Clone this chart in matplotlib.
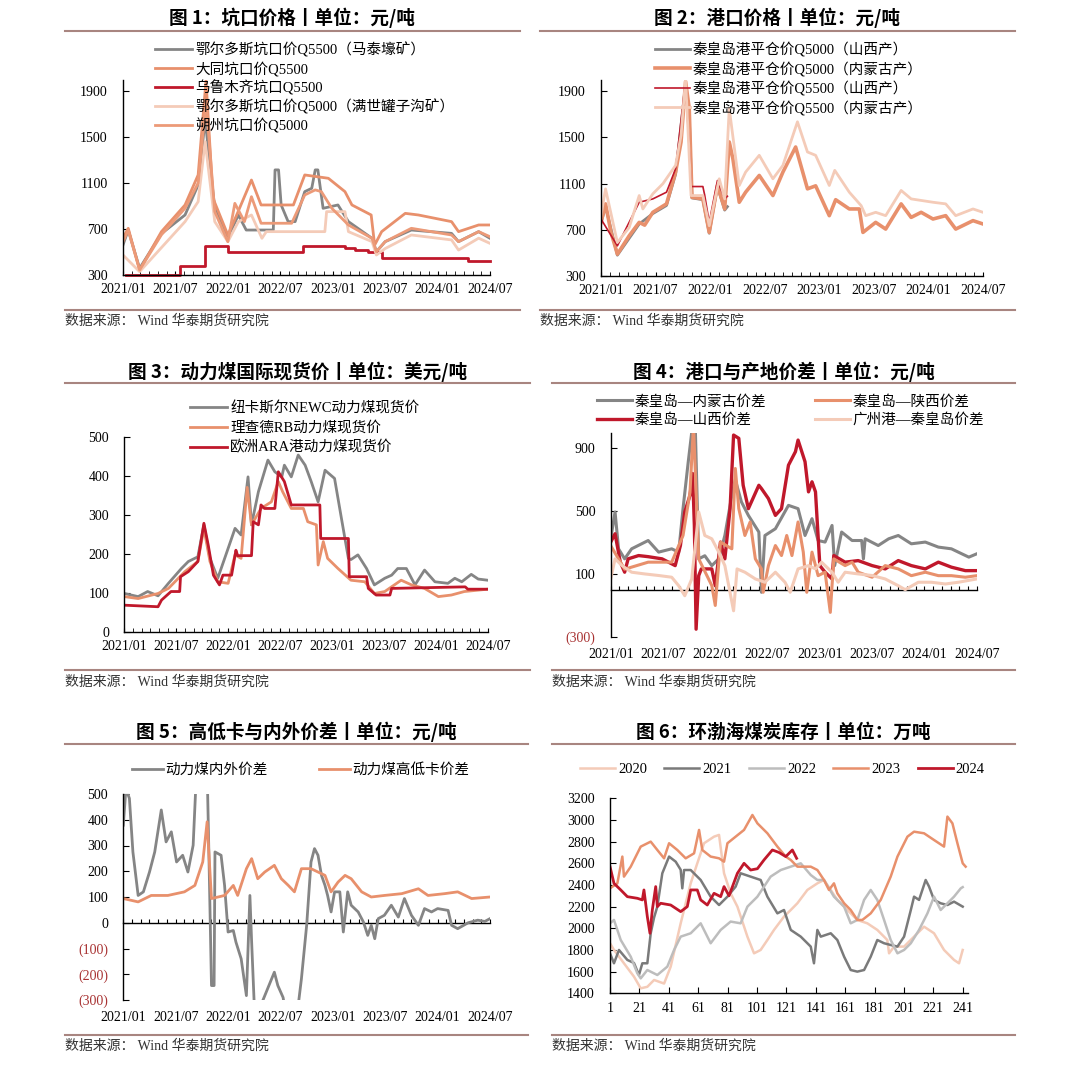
import matplotlib
matplotlib.use('Agg')
import matplotlib.pyplot as plt
from matplotlib.lines import Line2D

plt.rcParams['font.family'] = ['Liberation Serif', 'Noto Sans CJK SC']
plt.rcParams['axes.unicode_minus'] = False

GREY = '#858585'
SALMON = '#e8906c'
SALMON2 = '#ec9a78'
DARKRED = '#c0182b'
PEACH = '#f4cbb8'
LGREY = '#bdbdbd'
DGREY = '#7a7a7a'
RULE = '#a88580'
NEG = '#a83232'

# x in months since 2021/01 (panels 1-5), week number (panel 6)
month_labels = ['2021/01', '2021/07', '2022/01', '2022/07', '2023/01', '2023/07', '2024/01', '2024/07']

# 图1 坑口价格
p1_x_grey = [0, 0.6, 1.9, 4.4, 7.1, 8.6, 9.4, 10.5, 12.0, 13.2, 14.1, 17.2, 17.4, 17.8, 18.1, 18.9, 19.7, 20.8, 21.6, 22.0, 22.3, 22.9, 24.6, 25.8, 28.5, 29.0, 30.0, 33.0, 37.6, 38.4, 40.7, 42]
p1_grey = [561, 690, 358, 660, 822, 1083, 1650, 880, 619, 822, 691, 691, 1214, 1214, 909, 764, 764, 1025, 1054, 1214, 1214, 880, 909, 764, 619, 503, 590, 691, 662, 590, 677, 619]
p1_x_datong = [0, 0.6, 1.9, 4.4, 7.1, 8.6, 9.5, 10.3, 12.0, 13.0, 14.7, 15.8, 19.5, 20.8, 23.5, 25.4, 26.2, 28.4, 28.8, 29.6, 32.3, 33.8, 37.6, 38.4, 40.7, 42]
p1_datong = [620, 706, 343, 677, 909, 1170, 1990, 967, 648, 820, 1126, 909, 909, 1170, 1141, 1025, 909, 822, 560, 677, 836, 822, 764, 677, 735, 735]
p1_x_wlmq = [0.4, 6.5, 9.4, 12.0, 20.6, 25.4, 26.5, 28.0, 29.6, 39.5, 42]
p1_wlmq = [300, 381, 555, 497, 555, 532, 520, 503, 445, 422, 422]
p1_x_mansh = [0, 1.9, 7.1, 8.6, 9.4, 10.5, 12.0, 13.2, 14.7, 15.9, 16.4, 23.1, 23.3, 25.4, 25.8, 28.5, 29.0, 30.0, 33.0, 37.6, 38.4, 40.7, 42]
p1_mansh = [474, 329, 764, 938, 1460, 764, 590, 764, 822, 619, 677, 677, 851, 851, 677, 590, 474, 530, 648, 605, 517, 620, 575]
p1_x_shuozhou = [0, 0.6, 1.9, 4.4, 7.1, 8.6, 9.5, 10.5, 12.0, 12.8, 13.9, 14.7, 15.8, 19.3, 20.8, 22.0, 22.7, 23.9, 25.8, 28.5, 29.0, 30.0, 33.0, 37.6, 38.4, 40.7, 42]
p1_shuozhou = [590, 690, 343, 650, 880, 1100, 1808, 851, 590, 923, 764, 981, 750, 750, 996, 1040, 1025, 880, 735, 619, 503, 590, 706, 648, 590, 677, 633]

# 图2 港口价格
p2_x_sx5000 = [0, 0.5, 1.8, 4.2, 5.7, 7.2, 8.2, 9.3, 9.7, 10.0, 11.2, 11.9, 12.8, 13.6, 13.9]
p2_sx5000 = [760, 900, 480, 750, 840, 910, 1180, 1960, 1700, 975, 960, 670, 1075, 870, 900]
p2_x_nm5000 = [0, 0.5, 1.1, 1.8, 3.1, 4.2, 4.8, 5.7, 7.2, 8.2, 8.8, 9.3, 9.7, 10.0, 11.2, 11.9, 12.8, 13.6, 14.1, 14.5, 15.2, 15.9, 17.4, 18.9, 20.0, 21.4, 22.7, 23.6, 25.1, 25.8, 27.3, 28.4, 28.8, 30.2, 31.3, 33.0, 34.1, 35.2, 36.5, 37.9, 39.0, 40.9, 42]
p2_nm5000 = [764, 924, 677, 489, 648, 764, 740, 851, 924, 1199, 1460, 1982, 1750, 981, 967, 677, 1083, 880, 1460, 1315, 938, 1025, 1170, 996, 1199, 1416, 1054, 1080, 822, 960, 880, 880, 677, 764, 706, 924, 807, 851, 793, 822, 706, 779, 750]
p2_x_sx5500 = [0, 1.8, 4.2, 5.7, 7.2, 8.2, 8.6, 9.3, 9.9, 11.2, 11.4, 11.9, 12.8, 13.6, 13.9]
p2_sx5500 = [793, 561, 938, 967, 1025, 1228, 1503, 1996, 1074, 1074, 1000, 764, 1126, 967, 990]
p2_x_nm5500 = [0, 0.5, 1.8, 3.1, 4.2, 4.6, 5.7, 6.8, 8.2, 8.8, 9.3, 9.9, 11.2, 11.9, 13.0, 13.6, 14.1, 15.2, 15.9, 17.4, 18.9, 20.0, 21.6, 22.7, 23.6, 25.1, 25.7, 27.3, 28.6, 29.1, 30.2, 31.3, 33.0, 34.1, 36.5, 37.9, 39.0, 40.9, 42]
p2_nm5500 = [822, 1054, 590, 720, 996, 880, 1011, 1098, 1257, 1518, 2011, 996, 996, 735, 1141, 967, 1750, 1083, 1199, 1344, 1141, 1257, 1634, 1373, 1344, 1083, 1214, 1025, 909, 822, 851, 822, 1040, 967, 938, 924, 822, 880, 851]

# 图3 动力煤国际现货价
p3_x_newc = [0, 1.6, 2.7, 3.9, 5.1, 6.6, 7.4, 8.5, 9.2, 9.9, 10.8, 11.6, 12.8, 13.5, 14.3, 14.7, 15.5, 16.6, 17.4, 18.2, 18.5, 19.3, 20.1, 20.9, 21.6, 22.4, 23.2, 24.3, 25.1, 25.9, 26.2, 27.0, 28.0, 28.9, 30.1, 30.9, 31.6, 32.6, 33.6, 34.7, 35.9, 37.4, 38.2, 39.0, 40.1, 40.9, 42]
p3_newc = [98, 90, 103, 92, 124, 162, 180, 192, 274, 188, 137, 188, 265, 248, 397, 274, 359, 440, 410, 397, 427, 397, 453, 427, 385, 333, 414, 393, 290, 188, 185, 197, 162, 120, 137, 145, 162, 162, 120, 158, 128, 124, 137, 128, 147, 135, 132]
p3_x_rb = [0, 1.6, 3.9, 5.1, 7.0, 8.5, 9.2, 9.9, 10.8, 12.0, 12.8, 13.5, 14.2, 14.7, 15.8, 17.0, 17.8, 18.3, 19.3, 20.7, 21.2, 22.2, 22.4, 23.0, 23.5, 24.7, 26.2, 27.8, 28.9, 30.1, 32.0, 33.2, 34.7, 36.3, 37.8, 39.3, 42]
p3_rb = [90, 85, 98, 111, 154, 180, 265, 180, 128, 124, 197, 188, 370, 274, 316, 333, 385, 359, 316, 316, 282, 274, 171, 231, 188, 162, 132, 128, 98, 103, 132, 120, 111, 90, 94, 103, 109]
p3_x_ara = [0, 3.9, 4.3, 5.4, 6.4, 6.5, 7.4, 8.5, 9.2, 9.7, 10.3, 11.0, 11.4, 12.4, 12.9, 13.1, 14.7, 14.9, 15.5, 15.8, 16.2, 17.4, 17.8, 18.5, 19.3, 22.6, 22.7, 25.9, 26.0, 28.0, 28.2, 29.1, 30.7, 30.9, 39.4, 39.7, 42]
p3_ara = [68, 64, 81, 103, 103, 141, 154, 180, 278, 222, 145, 120, 145, 145, 209, 195, 195, 282, 274, 325, 316, 316, 410, 385, 325, 325, 239, 239, 141, 141, 111, 94, 94, 111, 115, 109, 109]

# 图4 港口与产地价差
p4_x_nmg = [0, 0.5, 0.9, 1.6, 2.4, 4.3, 5.5, 7.0, 7.8, 8.3, 8.9, 9.4, 9.7, 10.1, 10.8, 11.6, 12.4, 13.1, 13.9, 14.3, 15.0, 15.8, 17.0, 17.3, 17.7, 18.9, 20.4, 21.5, 22.3, 23.1, 23.8, 24.6, 25.4, 25.7, 26.5, 27.7, 28.8, 29.0, 29.2, 30.7, 31.9, 33.0, 34.5, 36.1, 37.6, 39.1, 40.3, 41.1, 42]
p4_nmg = [324, 495, 260, 196, 260, 313, 239, 260, 239, 516, 815, 1050, 1050, 196, 216, 153, 196, 345, 600, 700, 559, 473, 367, -17, 345, 388, 537, 516, 345, 452, 313, 303, 409, 153, 367, 313, 313, 196, 324, 281, 324, 345, 292, 303, 271, 260, 228, 207, 228]
p4_x_sx = [0, 0.5, 1.1, 1.6, 2.0, 3.2, 4.3, 5.9, 7.4, 8.0, 8.5, 9.1, 9.4, 9.6, 9.8, 10.1, 10.4, 11.6, 12.0, 12.6, 13.1, 13.7, 14.1, 14.7, 15.2, 15.8, 17.0, 17.3, 18.1, 18.9, 19.6, 20.4, 21.2, 21.5, 22.3, 22.7, 23.1, 23.5, 24.0, 24.6, 25.4, 25.6, 26.9, 28.4, 30.0, 31.5, 33.0, 34.5, 36.1, 37.6, 39.1, 40.7, 42]
p4_sx = [303, 356, 175, 111, 196, 217, 210, 196, 153, 281, 495, 601, 740, 409, -252, 89, 132, 132, 25, 303, 196, 516, 985, 964, 665, 516, 665, 644, 580, 473, 516, 793, 879, 953, 815, 623, 687, 623, 153, 111, 68, 217, 175, 185, 153, 132, 185, 153, 132, 175, 143, 121, 121]
p4_x_shx = [0, 1.6, 4.3, 7.0, 8.3, 9.1, 9.5, 10.1, 11.6, 12.0, 12.6, 13.9, 14.3, 14.7, 15.4, 16.0, 16.6, 17.3, 17.5, 18.1, 18.9, 19.6, 20.2, 20.8, 21.5, 22.1, 22.5, 23.1, 23.8, 24.6, 25.2, 25.6, 26.9, 27.7, 28.4, 30.0, 31.5, 33.0, 34.5, 36.1, 37.6, 39.1, 40.7, 42]
p4_shx = [280, 130, 175, 175, 345, 620, 1050, 196, 26, -101, 303, 260, 772, 516, 345, 431, 196, 132, -17, 153, 281, 217, 345, 217, 431, 239, -17, 239, 89, 111, -145, 196, 153, 175, 111, 79, 153, 132, 89, 111, 89, 89, 79, 89]
p4_x_gz = [0, 0.5, 1.3, 2.4, 3.9, 5.5, 7.0, 7.8, 8.5, 9.3, 10.1, 10.8, 11.6, 12.4, 13.1, 14.1, 14.5, 15.4, 16.6, 17.7, 18.9, 20.0, 20.6, 21.5, 22.7, 23.5, 24.2, 25.4, 26.1, 26.9, 28.4, 30.0, 31.5, 33.0, 33.8, 35.3, 36.8, 38.4, 39.9, 42]
p4_gz = [68, 196, 153, 111, 100, 90, 79, 25, -39, 68, 495, 345, 324, 239, 153, -135, 132, 111, 68, 47, 111, 47, -17, 132, 153, 132, 175, 111, 47, 111, 100, 90, 68, 25, 0, 47, 47, 36, 47, 68]

# 图5 高低卡与内外价差
p5_x_nw = [0, 0.3, 0.7, 1.1, 1.7, 2.3, 3.0, 3.6, 4.35, 4.9, 5.5, 6.1, 6.8, 7.4, 8.0, 8.4, 8.6, 9.6, 9.8, 10.1, 10.4, 10.5, 11.2, 11.6, 12.0, 12.6, 12.9, 13.5, 14.1, 14.5, 14.7, 15.0, 15.4, 17.3, 17.7, 18.3, 18.5, 20.0, 20.4, 21.0, 21.5, 21.9, 22.3, 22.7, 23.1, 23.4, 23.8, 24.2, 24.8, 25.2, 25.7, 26.1, 26.9, 27.5, 28.0, 28.4, 28.8, 29.2, 29.9, 30.7, 31.5, 32.2, 33.0, 33.8, 34.5, 35.3, 36.0, 37.2, 37.6, 38.3, 39.5, 40.6, 41.4, 42]
p5_nw = [379, 520, 483, 275, 106, 120, 197, 275, 438, 314, 353, 236, 262, 197, 301, 600, 600, 600, 275, -244, -244, 275, 262, 145, -36, -30, -75, -140, -283, 106, -75, -320, -350, -192, -244, -290, -330, -330, -218, -10, 236, 288, 262, 184, 145, 106, 42, 120, 120, -36, 120, 68, 42, 3, -49, -10, -62, 16, 29, 68, 22, 94, 29, -10, 55, 42, 55, 48, -10, -23, 0, 10, 5, 16]
p5_x_gd = [0, 1.7, 3.2, 5.1, 7.0, 8.2, 9.1, 9.6, 10.1, 11.6, 12.6, 13.1, 14.1, 14.7, 15.4, 16.2, 17.3, 18.1, 18.9, 19.6, 20.4, 21.5, 23.1, 23.8, 24.6, 25.4, 26.1, 27.3, 28.4, 29.9, 31.9, 33.8, 34.9, 36.8, 38.3, 39.9, 42]
p5_gd = [94, 81, 106, 106, 120, 145, 236, 392, 94, 106, 145, 106, 210, 249, 171, 197, 223, 171, 145, 120, 210, 210, 184, 120, 158, 184, 171, 120, 100, 106, 113, 132, 106, 113, 120, 94, 100]

# 图6 环渤海煤炭库存
p6_w2020 = [1, 3.7, 10.5, 17.3, 21.9, 26.4, 31, 37.8, 42.3, 49.1, 55.9, 60.4, 65, 71.8, 75.2, 78.6, 83.1, 87.7, 94.5, 99, 103.5, 108.1, 112.6, 119.4, 124, 128.5, 135.3, 142.1, 146.6, 151.2, 155.7, 162.5, 169.3, 176.1, 182.9, 189.7, 190.9, 194.3, 201.1, 207.9, 214.7, 221.5, 228.3, 235.1, 238.5, 241]
p6_2020 = [1862, 1800, 1677, 1554, 1446, 1460, 1523, 1490, 1646, 2046, 2415, 2600, 2785, 2846, 2862, 2508, 2323, 2200, 1923, 1769, 1800, 1892, 1985, 2108, 2169, 2231, 2354, 2415, 2446, 2354, 2262, 2169, 2077, 2046, 1985, 1892, 1769, 1831, 1831, 1923, 2015, 1954, 1800, 1708, 1677, 1800]
p6_w2021 = [1, 3.7, 7.1, 12.8, 17.3, 20.7, 23, 26.4, 28.7, 31, 33.2, 36.6, 41.2, 45.7, 49.1, 50.2, 51.4, 55.9, 62.7, 69.5, 75.2, 80.9, 86.5, 89.9, 96.7, 103.5, 108.1, 114.9, 119.4, 124, 130.8, 137.6, 139.8, 142.1, 144.4, 151.2, 155.7, 160.3, 164.8, 169.3, 173.9, 178.4, 182.9, 187.5, 192, 196.6, 201.1, 205.7, 207.9, 211.3, 215.8, 218.1, 221.5, 226, 230.6, 235.1, 241]
p6_2021 = [1769, 1677, 1800, 1708, 1680, 1569, 1677, 1677, 1954, 2100, 2200, 2508, 2662, 2615, 2540, 2369, 2538, 2538, 2446, 2292, 2215, 2292, 2385, 2508, 2477, 2446, 2292, 2138, 2169, 1985, 1923, 1831, 1677, 1985, 1923, 1954, 1892, 1738, 1615, 1600, 1615, 1738, 1892, 1862, 1846, 1831, 1923, 2169, 2292, 2262, 2446, 2385, 2262, 2231, 2215, 2246, 2200]
p6_w2022 = [1, 3.7, 8.3, 15.1, 19.6, 21.9, 26.4, 33.2, 40, 44.6, 49.1, 55.9, 62.7, 69.5, 76.3, 83.1, 89.9, 94.5, 101.3, 105.8, 110.3, 117.2, 124, 130.8, 137.6, 142.1, 146.6, 153.4, 160.3, 164.8, 169.3, 173.9, 178.4, 182.9, 187.5, 192, 196.6, 201.1, 205.7, 211.3, 217, 221.5, 226, 230.6, 235.1, 239.7, 241]
p6_2022 = [2046, 2077, 1892, 1738, 1585, 1538, 1615, 1569, 1646, 1800, 1923, 1954, 2046, 1862, 1985, 2062, 2046, 2200, 2292, 2385, 2477, 2538, 2569, 2600, 2492, 2446, 2446, 2292, 2200, 2046, 2077, 2262, 2354, 2262, 2077, 1892, 1769, 1800, 1862, 1985, 2138, 2292, 2169, 2231, 2292, 2369, 2380]
p6_w2023 = [1, 6, 9.4, 10.5, 15.1, 21.9, 28.7, 33.2, 37.8, 41.2, 46.8, 52.5, 58.2, 61.6, 63.8, 69.5, 75.2, 78.6, 80.9, 86.5, 92.2, 97.9, 101.3, 108.1, 114.9, 120.6, 124, 128.5, 137.6, 142.1, 146.6, 150, 153.4, 155.7, 160.3, 164.8, 169.3, 172.7, 178.4, 185.2, 192, 196.6, 203.4, 207.9, 214.7, 221.5, 228.3, 230.6, 234, 237.4, 241, 243]
p6_2023 = [2369, 2415, 2662, 2477, 2569, 2754, 2800, 2723, 2646, 2785, 2723, 2646, 2692, 2908, 2723, 2662, 2646, 2615, 2785, 2846, 2908, 3046, 2969, 2877, 2754, 2662, 2631, 2569, 2569, 2538, 2446, 2354, 2415, 2323, 2231, 2169, 2077, 2077, 2138, 2262, 2477, 2662, 2846, 2892, 2877, 2815, 2754, 3031, 2969, 2785, 2600, 2569]
p6_w2024 = [1, 3.7, 8.3, 12.8, 19.6, 23, 24.1, 26.4, 28.2, 29.8, 32.1, 33.2, 35.5, 42.3, 49.1, 53.6, 55.9, 60.4, 62.7, 67.2, 71.8, 76.3, 78.6, 82, 87.7, 92.2, 96.7, 101.3, 105.8, 111.5, 116, 120.6, 125.1, 128]
p6_2024 = [2569, 2415, 2354, 2292, 2277, 2262, 2354, 2108, 1954, 2169, 2385, 2200, 2231, 2215, 2154, 2200, 2354, 2354, 2262, 2215, 2323, 2292, 2385, 2300, 2508, 2600, 2538, 2550, 2631, 2723, 2700, 2662, 2723, 2646]

W, H = 1080, 1089
fig = plt.figure(figsize=(W / 100, H / 100), dpi=100)


def panel(left, top, right, bottom):
    return fig.add_axes([left / W, 1 - bottom / H, (right - left) / W, (bottom - top) / H])


def header(title, cx, ty, x0, x1, ly, by, sy):
    fig.text(cx / W, 1 - ty / H, title, ha='center', va='center', fontsize=13.4,
             fontweight='bold', family=['Noto Sans CJK SC'])
    fig.add_artist(Line2D([x0 / W, x1 / W], [1 - ly / H] * 2, color=RULE, lw=1.5))
    fig.add_artist(Line2D([x0 / W, x1 / W], [1 - by / H] * 2, color=RULE, lw=1.5))
    fig.text(x0 / W, 1 - sy / H, '数据来源： Wind 华泰期货研究院', ha='left', va='center',
             fontsize=10, color='#333333')


def style(ax, yticks, ylim, zero_line=False):
    for s in ['top', 'right']:
        ax.spines[s].set_visible(False)
    ax.spines['left'].set_linewidth(1.0)
    ax.spines['bottom'].set_linewidth(1.0)
    ax.set_ylim(*ylim)
    labels = ['(%d)' % abs(v) if v < 0 else '%d' % v for v in yticks]
    ax.set_yticks(yticks, labels=labels)
    for lab, v in zip(ax.get_yticklabels(), yticks):
        if v < 0:
            lab.set_color(NEG)
    ax.tick_params(axis='y', direction='in', length=4, pad=11, labelsize=10)
    ax.tick_params(axis='x', labelsize=10)
    if zero_line:
        ax.spines['bottom'].set_visible(False)
        sec = ax.secondary_xaxis(0, transform=ax.transData)
        sec.set_xticks(range(43))
        sec.tick_params(direction='in', length=3, labelbottom=False)
        sec.spines['bottom'].set_linewidth(1.0)


def month_axis(ax):
    ax.set_xlim(0, 42)
    ax.set_xticks(range(0, 43, 6), labels=month_labels)
    ax.set_xticks(range(43), minor=True)
    ax.tick_params(axis='x', which='both', direction='in', length=3, pad=6)


def legend(ax, x, y, hl, sp, **kw):
    ax.legend(loc='upper left', bbox_to_anchor=(x / W, 1 - y / H), bbox_transform=fig.transFigure,
              frameon=False, fontsize=10.5, handlelength=hl, handletextpad=0.2,
              labelspacing=sp, borderpad=0, borderaxespad=0, **kw)


# ---- 图1
ax1 = panel(123, 79.5, 490, 275)
ax1.plot(p1_x_grey, p1_grey, color=GREY, lw=2, label='鄂尔多斯坑口价Q5500（马泰壕矿）')
ax1.plot(p1_x_datong, p1_datong, color=SALMON, lw=2, label='大同坑口价Q5500')
ax1.plot(p1_x_wlmq, p1_wlmq, color=DARKRED, lw=2, drawstyle='steps-post', clip_on=False,
         label='乌鲁木齐坑口Q5500')
ax1.plot(p1_x_mansh, p1_mansh, color=PEACH, lw=2, label='鄂尔多斯坑口价Q5000（满世罐子沟矿）')
ax1.plot(p1_x_shuozhou, p1_shuozhou, color=SALMON2, lw=2, label='朔州坑口价Q5000')
style(ax1, [300, 700, 1100, 1500, 1900], (300, 2000))
month_axis(ax1)
legend(ax1, 155, 42, 2.55, 0.26)
header('图 1：坑口价格丨单位：元/吨', 292, 18, 65, 520, 31, 310, 321)

# ---- 图2
ax2 = panel(601, 79.5, 983, 276)
ax2.plot(p2_x_sx5000, p2_sx5000, color=GREY, lw=2, label='秦皇岛港平仓价Q5000（山西产）')
ax2.plot(p2_x_nm5000, p2_nm5000, color=SALMON, lw=2.6, label='秦皇岛港平仓价Q5000（内蒙古产）')
ax2.plot(p2_x_sx5500, p2_sx5500, color=DARKRED, lw=1.2, label='秦皇岛港平仓价Q5500（山西产）')
ax2.plot(p2_x_nm5500, p2_nm5500, color=PEACH, lw=2, label='秦皇岛港平仓价Q5500（内蒙古产）')
style(ax2, [300, 700, 1100, 1500, 1900], (300, 2000))
month_axis(ax2)
legend(ax2, 655, 42, 2.4, 0.31)
header('图 2：港口价格丨单位：元/吨', 777, 18, 540, 1015, 31, 310, 321)

# ---- 图3
ax3 = panel(124.3, 436.7, 487.7, 631.7)
ax3.plot(p3_x_newc, p3_newc, color=GREY, lw=2, label='纽卡斯尔NEWC动力煤现货价')
ax3.plot(p3_x_rb, p3_rb, color=SALMON, lw=2, label='理查德RB动力煤现货价')
ax3.plot(p3_x_ara, p3_ara, color=DARKRED, lw=2, label='欧洲ARA港动力煤现货价')
style(ax3, [0, 100, 200, 300, 400, 500], (0, 500))
month_axis(ax3)
legend(ax3, 190, 401, 2.55, 0.4)
header('图 3：动力煤国际现货价丨单位：美元/吨', 298, 372, 65, 530, 383, 670, 682)

# ---- 图4
ax4 = panel(610.7, 432.7, 976.7, 636.7)
ax4.plot(p4_x_nmg, p4_nmg, color=GREY, lw=2.2, label='秦皇岛—内蒙古价差')
ax4.plot(p4_x_sx, p4_sx, color=DARKRED, lw=2.4, label='秦皇岛—山西价差')
ax4.plot(p4_x_shx, p4_shx, color=SALMON, lw=2.2, label='秦皇岛—陕西价差')
ax4.plot(p4_x_gz, p4_gz, color=PEACH, lw=2.2, label='广州港—秦皇岛价差')
style(ax4, [-300, 100, 500, 900], (-300, 1000), zero_line=True)
month_axis(ax4)
ax4.tick_params(axis='x', which='both', length=0, pad=8)
legend(ax4, 597, 395, 2.4, 0.33, ncol=2, columnspacing=3.3)
header('图 4：港口与产地价差丨单位：元/吨', 784, 372, 552, 1015, 383, 670, 682)

# ---- 图5
ax5 = panel(123.3, 794, 490, 1000)
ax5.plot(p5_x_nw, p5_nw, color=GREY, lw=2, label='动力煤内外价差')
ax5.plot(p5_x_gd, p5_gd, color=SALMON, lw=2, label='动力煤高低卡价差')
style(ax5, [-300, -200, -100, 0, 100, 200, 300, 400, 500], (-300, 500), zero_line=True)
month_axis(ax5)
ax5.tick_params(axis='x', which='both', length=0, pad=8)
legend(ax5, 132, 763, 2.1, 0.2, ncol=2, columnspacing=3.5)
header('图 5：高低卡与内外价差丨单位：元/吨', 296, 732, 65, 528, 744, 1035, 1046)

# ---- 图6
ax6 = panel(610, 798.3, 967.7, 993.3)
ax6.plot(p6_w2020, p6_2020, color=PEACH, lw=1.8, label='2020')
ax6.plot(p6_w2021, p6_2021, color=DGREY, lw=1.8, label='2021')
ax6.plot(p6_w2022, p6_2022, color=LGREY, lw=1.8, label='2022')
ax6.plot(p6_w2023, p6_2023, color=SALMON, lw=1.8, label='2023')
ax6.plot(p6_w2024, p6_2024, color=DARKRED, lw=2, label='2024')
style(ax6, list(range(1400, 3201, 200)), (1400, 3200))
ax6.set_xlim(1, 244.4)
ax6.set_xticks(range(1, 242, 20))
ax6.tick_params(axis='x', direction='in', length=4, pad=6)
legend(ax6, 580, 763, 2.4, 0.2, ncol=5, columnspacing=1.2)
header('图 6：环渤海煤炭库存丨单位：万吨', 783, 732, 552, 1015, 744, 1035, 1046)

fig.savefig('out.png', dpi=100)
